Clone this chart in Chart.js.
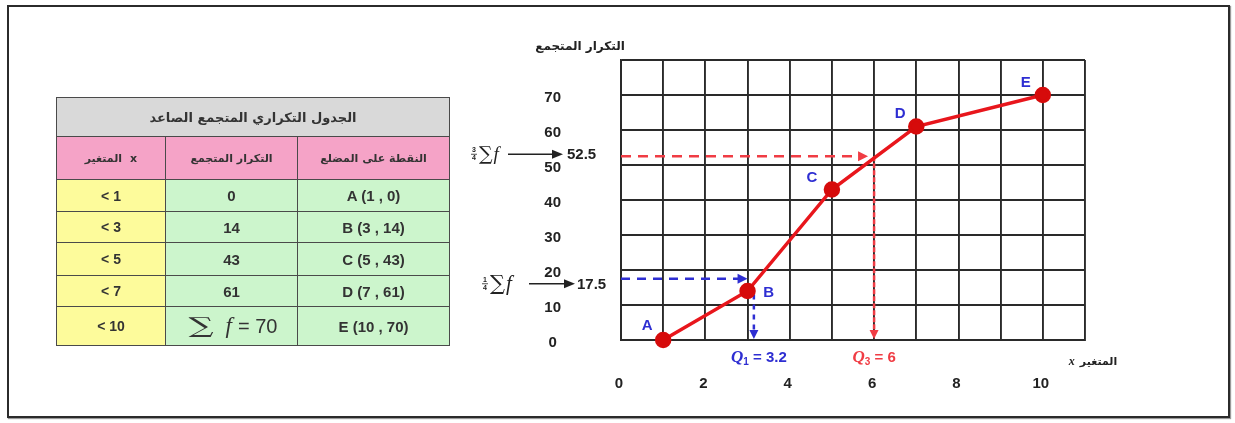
<!DOCTYPE html>
<html>
<head>
<meta charset="utf-8">
<script src="https://cdn.jsdelivr.net/npm/chart.js@4.4.0/dist/chart.umd.min.js"></script>
<style>
  html, body { margin: 0; padding: 0; background: #fff; }
  body { width: 1235px; height: 423px; position: relative; overflow: hidden;
         font-family: "Liberation Sans", "DejaVu Sans", Arial, sans-serif; }
  #frame { position: absolute; left: 7px; top: 5px; width: 1223px; height: 413px;
           box-sizing: border-box; border: 2px solid #2b2b2b; box-shadow: 1px 1px 1px #999; }
  #chart { position: absolute; left: 0; top: 0; }
  #freqTable { position: absolute; left: 56px; top: 97px; width: 393px;
               border-collapse: collapse; table-layout: fixed; }
  #freqTable td { border: 1.5px solid #4a4a4a; text-align: center; font-weight: bold;
                  color: #333; font-size: 15px; padding: 0; white-space: nowrap; }
  #freqTable td.title { background: #d9d9d9; font-size: 13px; font-family: "DejaVu Sans", sans-serif; }
  #freqTable td.head { background: #f5a3c7; font-size: 11px; font-family: "DejaVu Sans", sans-serif; }
  #freqTable td.yel { background: #fdfb9b; font-size: 14px; }
  #freqTable td.grn { background: #ccf5cc; }
  #freqTable td.sumcell { font-weight: normal; font-size: 20px; color: #333; }
  .pair { display: inline-flex; flex-direction: row; direction: ltr; gap: 8px; align-items: baseline; }
  .sig { display: inline-block; width: 30px; text-align: center; font-family: "DejaVu Serif", serif;
         font-size: 22px; transform: scaleX(1.6); margin-right: 10px; }
  .fi { font-family: "Liberation Serif", serif; font-style: italic; font-size: 23px; margin-right: 6px; }
</style>
</head>
<body>
<div id="frame"></div>
<canvas id="chart" width="1235" height="423"></canvas>
<table id="freqTable">
  <colgroup><col style="width:109px"><col style="width:132px"><col style="width:152px"></colgroup>
  <tbody id="freqBody"></tbody>
</table>
<script>
// --- Data ---
const pointNames = ['A', 'B', 'C', 'D', 'E'];
const xValues = [1, 3, 5, 7, 10];          // upper class bounds
const cumFreq = [0, 14, 43, 61, 70];       // ascending cumulative frequency
const xTickLabels = [0, 2, 4, 6, 8, 10];
const yTickLabels = [0, 10, 20, 30, 40, 50, 60, 70];
const q1Freq = 17.5;   // 1/4 of sum f
const q3Freq = 52.5;   // 3/4 of sum f
const q1Value = 3.2;
const q3Value = 6;
const q1DropX = 3.15;  // where the blue drop line sits in the picture

const tableTitle = 'الجدول التكراري المتجمع الصاعد';
const varWord = 'المتغير';   // "the variable", written next to the symbol x
const varSym = 'x';
const tableHeads = ['التكرار المتجمع', 'النقطة على المضلع'];
const yTitle = 'التكرار المتجمع';

const FONT = '"Liberation Sans", "DejaVu Sans", Arial, sans-serif';
const BLUE = '#2e2ed2';
const RED = '#e8161c';
const RED_DASH = '#f03c44';

// --- Table ---
function renderTable() {
  const rowHeights = [31, 30, 32, 30, 38];
  // first header: word on the left, x on the right, as in the picture
  const head0 = `<span class="pair"><span>${varWord}</span><span>${varSym}</span></span>`;
  let html = `<tr><td class="title" colspan="3" dir="rtl" style="height:38px">${tableTitle}</td></tr>`;
  html += '<tr>' + [head0, ...tableHeads].map(h =>
    `<td class="head" style="height:42px">${h}</td>`).join('') + '</tr>';
  xValues.forEach((x, i) => {
    const last = i === xValues.length - 1;
    const freq = last
      ? `<span class="sig">∑</span><span class="fi">f</span>= ${cumFreq[i]}`
      : cumFreq[i];
    html += `<tr>
      <td class="yel" style="height:${rowHeights[i]}px">&lt; ${x}</td>
      <td class="grn${last ? ' sumcell' : ''}">${freq}</td>
      <td class="grn">${pointNames[i]} (${x} , ${cumFreq[i]})</td>
    </tr>`;
  });
  document.getElementById('freqBody').innerHTML = html;
}

// --- Drawing helpers for the annotations ---
function arrowHead(ctx, tx, ty, dir, color, len = 10, half = 5) {
  ctx.save();
  ctx.fillStyle = color;
  ctx.beginPath();
  if (dir === 'right') {
    ctx.moveTo(tx, ty); ctx.lineTo(tx - len, ty - half); ctx.lineTo(tx - len, ty + half);
  } else {
    ctx.moveTo(tx, ty); ctx.lineTo(tx - half, ty - len); ctx.lineTo(tx + half, ty - len);
  }
  ctx.closePath();
  ctx.fill();
  ctx.restore();
}

function drawQLabel(ctx, sub, valText, cx, cy, color) {
  ctx.save();
  ctx.fillStyle = color;
  ctx.textBaseline = 'alphabetic';
  const qFont = 'italic bold 17px "Liberation Serif", serif';
  const subFont = 'bold 10px ' + FONT;
  const valFont = 'bold 15px ' + FONT;
  ctx.font = qFont; const wq = ctx.measureText('Q').width;
  ctx.font = subFont; const ws = ctx.measureText(sub).width;
  ctx.font = valFont; const wv = ctx.measureText(valText).width;
  let x = cx - (wq + ws + wv) / 2;
  const base = cy + 6;
  ctx.font = qFont; ctx.fillText('Q', x, base); x += wq;
  ctx.font = subFont; ctx.fillText(sub, x, base + 3); x += ws;
  ctx.font = valFont; ctx.fillText(valText, x, base);
  ctx.restore();
}

function drawSumArrow(ctx, num, den, startX, sigSize, lineFrom, lineTo, label, labelX, cy) {
  ctx.save();
  ctx.fillStyle = '#222';
  ctx.strokeStyle = '#222';
  ctx.textBaseline = 'middle';
  ctx.textAlign = 'center';
  // small stacked fraction
  ctx.font = 'bold 7px ' + FONT;
  ctx.fillText(num, startX, cy - 4);
  ctx.fillText(den, startX, cy + 4);
  ctx.lineWidth = 0.8;
  ctx.beginPath(); ctx.moveTo(startX - 3, cy); ctx.lineTo(startX + 3, cy); ctx.stroke();
  ctx.textAlign = 'left';
  ctx.font = sigSize + 'px "DejaVu Serif", serif';
  const sx = startX + 5;
  ctx.fillText('∑', sx, cy + 1);
  const ws = ctx.measureText('∑').width;
  ctx.font = 'italic ' + sigSize + 'px "Liberation Serif", serif';
  ctx.fillText('f', sx + ws + 1, cy + 1);
  // arrow
  ctx.lineWidth = 1.6;
  ctx.beginPath(); ctx.moveTo(lineFrom, cy); ctx.lineTo(lineTo - 8, cy); ctx.stroke();
  ctx.restore();
  arrowHead(ctx, lineTo, cy, 'right', '#222', 11, 4.5);
  ctx.save();
  ctx.fillStyle = '#222';
  ctx.textBaseline = 'middle';
  ctx.font = 'bold 15px ' + FONT;
  ctx.fillText(label, labelX, cy + 1);
  ctx.restore();
}

const annotations = {
  id: 'annotations',
  afterDatasetsDraw(chart) {
    const { ctx, chartArea, scales: { x, y } } = chart;
    // arrow heads on the dashed guide lines
    arrowHead(ctx, x.getPixelForValue(xValues[1]), y.getPixelForValue(q1Freq), 'right', BLUE);
    arrowHead(ctx, x.getPixelForValue(q1DropX), y.getPixelForValue(0) - 1, 'down', BLUE, 9, 4.5);
    arrowHead(ctx, x.getPixelForValue(q3Value) - 6, y.getPixelForValue(q3Freq), 'right', RED_DASH);
    arrowHead(ctx, x.getPixelForValue(q3Value), y.getPixelForValue(0) - 1, 'down', RED_DASH, 9, 4.5);

    // point names
    const offsets = [[-16, -14], [21, 2], [-20, -12], [-16, -13], [-17, -12]];
    const pts = chart.getDatasetMeta(0).data;
    ctx.save();
    ctx.fillStyle = BLUE;
    ctx.font = 'bold 15px ' + FONT;
    ctx.textAlign = 'center';
    ctx.textBaseline = 'middle';
    pts.forEach((p, i) => ctx.fillText(pointNames[i], p.x + offsets[i][0], p.y + offsets[i][1]));
    ctx.restore();

    // quartile labels under the axis
    drawQLabel(ctx, '1', ' = ' + q1Value, x.getPixelForValue(q1DropX) + 5, chartArea.bottom + 16, BLUE);
    drawQLabel(ctx, '3', ' = ' + q3Value, x.getPixelForValue(q3Value), chartArea.bottom + 16, RED_DASH);

    // left-hand quartile annotations
    const l = chartArea.left;
    drawSumArrow(ctx, '3', '4', l - 147, 19, l - 113, l - 58, String(q3Freq), l - 54, y.getPixelForValue(q3Freq) - 2);
    drawSumArrow(ctx, '1', '4', l - 136, 21, l - 92, l - 46, String(q1Freq), l - 44, y.getPixelForValue(q1Freq) + 5);

    // axis titles
    ctx.save();
    ctx.direction = 'rtl';
    ctx.fillStyle = '#222';
    ctx.textAlign = 'center';
    ctx.textBaseline = 'middle';
    ctx.font = 'bold 12px "DejaVu Sans", sans-serif';
    ctx.fillText(yTitle, l - 41, chartArea.top - 13);
    // x title: symbol on the left, word on the right
    ctx.direction = 'ltr';
    ctx.textAlign = 'left';
    ctx.font = 'bold 11px "DejaVu Sans", sans-serif';
    const ww = ctx.measureText(varWord).width;
    ctx.font = 'italic bold 12px "Liberation Serif", serif';
    const wx = ctx.measureText(varSym).width;
    const tx = chartArea.right + 8 - (ww + wx + 5) / 2;
    const ty = chartArea.bottom + 22;
    ctx.fillText(varSym, tx, ty);
    ctx.font = 'bold 11px "DejaVu Sans", sans-serif';
    ctx.fillText(varWord, tx + wx + 5, ty);
    ctx.restore();
  }
};

// --- Chart ---
function renderChart() {
  const polygon = xValues.map((x, i) => ({ x, y: cumFreq[i] }));
  const guide = (pts, color, dash) => ({
    data: pts, showLine: true, borderColor: color, borderWidth: 2.5,
    borderDash: dash, pointRadius: 0, clip: false
  });
  new Chart(document.getElementById('chart').getContext('2d'), {
    type: 'scatter',
    data: {
      datasets: [
        { data: polygon, showLine: true, borderColor: RED, borderWidth: 3.5,
          pointRadius: 6.5, pointBackgroundColor: '#d60b0b', pointBorderColor: '#d60b0b',
          clip: false },
        guide([{ x: 0, y: q1Freq }, { x: xValues[1] - 0.2, y: q1Freq }], BLUE, [9, 7]),
        guide([{ x: q1DropX, y: cumFreq[1] - 1 }, { x: q1DropX, y: 2.5 }], BLUE, [5, 5]),
        guide([{ x: 0, y: q3Freq }, { x: q3Value - 0.35, y: q3Freq }], RED_DASH, [10, 7]),
        guide([{ x: q3Value, y: q3Freq }, { x: q3Value, y: 2.5 }], RED_DASH, [5, 2])
      ]
    },
    options: {
      responsive: false,
      animation: false,
      layout: { padding: { left: 511, right: 150, top: 60, bottom: 33 } },
      plugins: { legend: { display: false }, tooltip: { enabled: false } },
      scales: {
        x: {
          type: 'linear', min: 0, max: 11,
          afterFit(s) { s.height = 50; s.paddingLeft = 0; s.paddingRight = 0; },
          ticks: {
            stepSize: 1, autoSkip: false, maxRotation: 0, padding: 35, labelOffset: -2,
            color: '#222', font: { family: FONT, size: 15, weight: 'bold' },
            callback: v => xTickLabels.includes(v) ? v : ''
          },
          grid: { color: '#2a2a2a', lineWidth: 1.9, drawTicks: false },
          border: { color: '#2a2a2a', width: 1.9 }
        },
        y: {
          type: 'linear', min: 0, max: 80,
          afterFit(s) { s.width = 110; s.paddingTop = 0; s.paddingBottom = 0; },
          ticks: {
            stepSize: 10, crossAlign: 'center', padding: 60, labelOffset: 3,
            color: '#222', font: { family: FONT, size: 15, weight: 'bold' },
            callback: v => yTickLabels.includes(v) ? v : ''
          },
          grid: { color: '#2a2a2a', lineWidth: 1.9, drawTicks: false },
          border: { color: '#2a2a2a', width: 1.9 }
        }
      }
    },
    plugins: [annotations]
  });
}

renderTable();
renderChart();
</script>
</body>
</html>
